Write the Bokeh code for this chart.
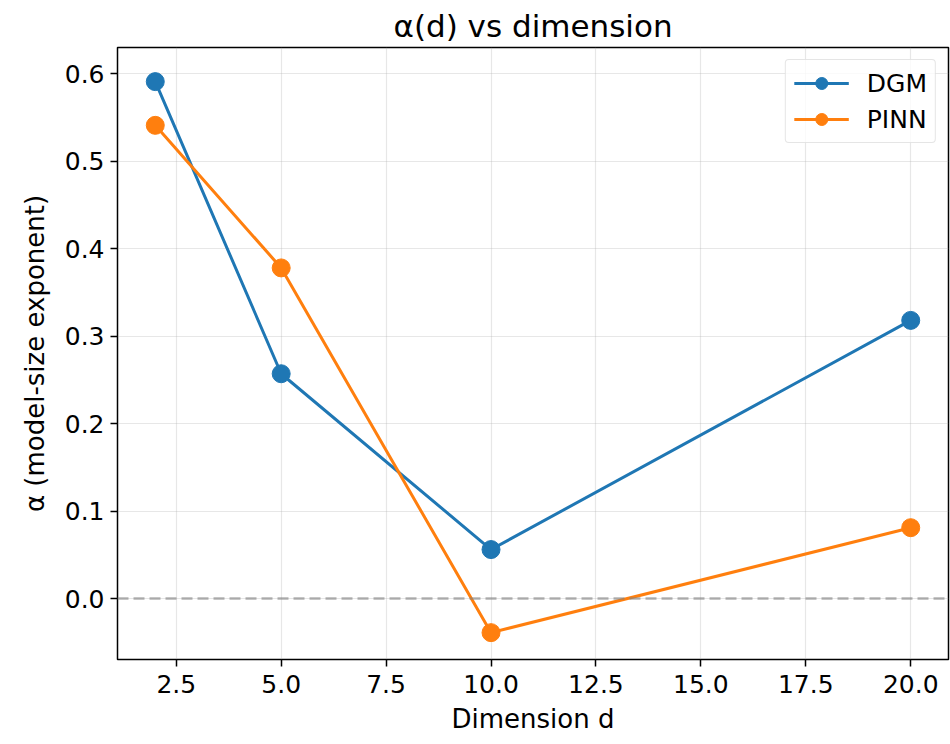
from bokeh.plotting import figure
from bokeh.models import Range1d, FixedTicker, PrintfTickFormatter, Span, Legend, LegendItem
from bokeh.embed import file_html
from bokeh.resources import INLINE

dims = [2, 5, 10, 20]
dgm = [0.591, 0.257, 0.056, 0.318]
pinn = [0.541, 0.378, -0.039, 0.081]
x_ticks = [2.5, 5.0, 7.5, 10.0, 12.5, 15.0, 17.5, 20.0]
y_ticks = [0.0, 0.1, 0.2, 0.3, 0.4, 0.5, 0.6]

FONT = "DejaVu Sans"
BLUE = "#1f77b4"
ORANGE = "#ff7f0e"

p = figure(width=950, height=744, output_backend="svg", toolbar_location=None,
           x_range=Range1d(1.1, 20.9), y_range=Range1d(-0.0697, 0.63),
           title="α(d) vs dimension")
p.frame_width = 831
p.frame_height = 612
p.min_border_left = 117
p.min_border_right = 2
p.min_border_top = 47
p.min_border_bottom = 85

p.title.align = "center"
p.title.text_font = FONT
p.title.text_font_size = "31px"
p.title.text_font_style = "normal"
p.title.text_color = "black"
p.title.standoff = 8

p.outline_line_color = "black"
p.outline_line_width = 1.5
p.background_fill_color = "white"
p.border_fill_color = "white"

for ax in (p.xaxis[0], p.yaxis[0]):
    ax.axis_line_color = None
    ax.major_tick_out = 7
    ax.major_tick_in = 0
    ax.major_tick_line_width = 1.5
    ax.minor_tick_line_color = None
    ax.major_label_text_font = FONT
    ax.major_label_text_font_size = "25px"
    ax.major_label_text_color = "black"
    ax.axis_label_text_font = FONT
    ax.axis_label_text_font_size = "26px"
    ax.axis_label_text_font_style = "normal"
    ax.axis_label_text_color = "black"
    ax.formatter = PrintfTickFormatter(format="%.1f")

p.xaxis[0].major_label_standoff = 8
p.yaxis[0].major_label_standoff = 6
p.xaxis[0].ticker = FixedTicker(ticks=x_ticks)
p.yaxis[0].ticker = FixedTicker(ticks=y_ticks)
p.xaxis[0].axis_label = "Dimension d"
p.yaxis[0].axis_label = "α (model-size exponent)"
p.xaxis[0].axis_label_standoff = 8
p.yaxis[0].axis_label_standoff = 12

p.grid.grid_line_color = "#b0b0b0"
p.grid.grid_line_alpha = 0.3
p.grid.grid_line_width = 1.2

zero = Span(location=0, dimension="width", line_color="gray", line_alpha=0.6,
            line_dash="11 5", line_width=2.5)
p.add_layout(zero)

l1 = p.line(dims, dgm, line_color=BLUE, line_width=3)
s1 = p.scatter(dims, dgm, size=18, fill_color=BLUE, line_color=BLUE)
l2 = p.line(dims, pinn, line_color=ORANGE, line_width=3)
s2 = p.scatter(dims, pinn, size=18, fill_color=ORANGE, line_color=ORANGE)

legend = Legend(items=[LegendItem(label="DGM", renderers=[l1, s1]),
                       LegendItem(label="PINN", renderers=[l2, s2])],
                location="top_right")
legend.label_text_font = FONT
legend.label_text_font_size = "25px"
legend.label_text_color = "black"
legend.border_line_color = "#cccccc"
legend.border_line_width = 1.5
legend.border_radius = 4
legend.glyph_width = 55
legend.glyph_height = 30
legend.label_standoff = 18
legend.padding = 8
legend.spacing = 6
legend.margin = 12
legend.background_fill_alpha = 0.8
p.add_layout(legend)

open("out.html", "w").write(file_html(p, INLINE))
